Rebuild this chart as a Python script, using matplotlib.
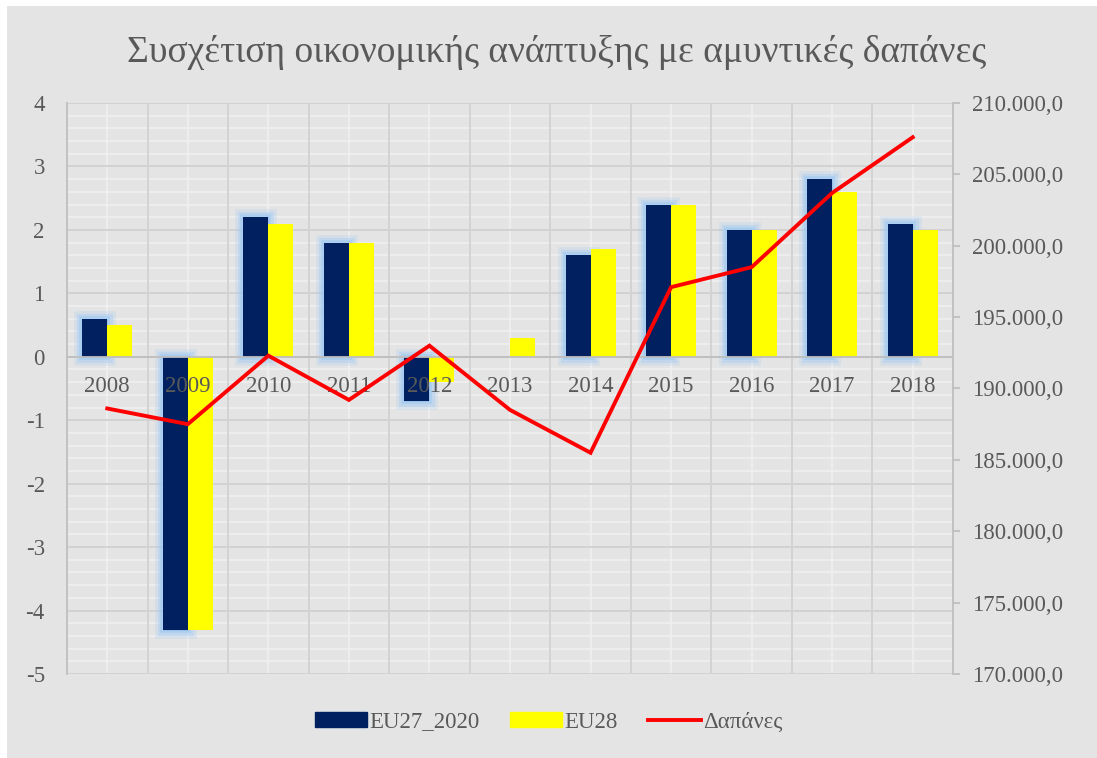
import numpy as np
import matplotlib
matplotlib.use("Agg")
import matplotlib.pyplot as plt
import matplotlib.patheffects as pe
from matplotlib.patches import Patch, Rectangle
from matplotlib.lines import Line2D
from matplotlib.ticker import FuncFormatter, MultipleLocator

# ---------------------------------------------------
# data
# ---------------------------------------------------
years = ["2008", "2009", "2010", "2011", "2012", "2013",
         "2014", "2015", "2016", "2017", "2018"]
eu27_2020 = [0.6, -4.3, 2.2, 1.8, -0.7, np.nan, 1.6, 2.4, 2.0, 2.8, 2.1]
eu28 = [0.5, -4.3, 2.1, 1.8, -0.4, 0.3, 1.7, 2.4, 2.0, 2.6, 2.0]
dapanes = [188600, 187500, 192300, 189200, 193000, 188500,
           185500, 197100, 198500, 203700, 207600]

title = "Συσχέτιση οικονομικής ανάπτυξης με αμυντικές δαπάνες"

# ---------------------------------------------------
# style
# ---------------------------------------------------
plt.rcParams["font.family"] = ["Liberation Serif", "DejaVu Serif"]
txt = "#595959"
bg = "#e4e4e4"
navy = "#002060"
yellow = "#ffff00"
red = "#ff0000"
glow = "#9cc8f4"
fs = 16.5

fig = plt.figure(figsize=(10.97, 7.58), dpi=100, facecolor="white")
# grey chart area with thin white margin on left/top
fig.patches.append(Rectangle((7 / 1097, 0), 1 - 7 / 1097, 1 - 6 / 758,
                             transform=fig.transFigure, facecolor=bg,
                             edgecolor="none", zorder=-10))

ax = fig.add_axes([67 / 1097, 1 - 674 / 758, (953 - 67) / 1097, (674 - 103) / 758])
ax.set_facecolor(bg)
x = np.arange(len(years))
w = 0.31

glow_fx = [pe.Stroke(linewidth=12, foreground=glow, alpha=0.2),
           pe.Stroke(linewidth=8, foreground=glow, alpha=0.35),
           pe.Stroke(linewidth=4, foreground=glow, alpha=0.6),
           pe.Normal()]

b1 = ax.bar(x - w / 2, eu27_2020, w, color=navy, zorder=2)
for b in b1:
    b.set_path_effects(glow_fx)
ax.bar(x + w / 2, eu28, w, color=yellow, zorder=3)

ax.set_xlim(-0.5, len(years) - 0.5)
ax.set_ylim(-5, 4)
ax.set_axisbelow(True)

# grid: white minors, gray majors
ax.yaxis.set_major_locator(MultipleLocator(1))
ax.yaxis.set_minor_locator(MultipleLocator(0.2))
ax.set_xticks(x)
ax.set_xticklabels([])
ax.grid(which="minor", axis="y", color="#f0f0f0", linewidth=1.2)
ax.grid(which="major", axis="x", color="#f0f0f0", linewidth=1.2)
ax.grid(which="major", axis="y", color="#d2d2d2", linewidth=1.3)
# category boundaries
ax.vlines(x[1:] - 0.5, -5, 4, color="#d2d2d2", linewidth=1.3, zorder=0.7)
ax.hlines(np.arange(-5, 5), -0.5, len(years) - 0.5, color="#d2d2d2",
          linewidth=1.3, zorder=0.7)
ax.tick_params(which="both", length=0)
ax.tick_params(axis="y", labelsize=fs, labelcolor=txt, pad=16)
ax.set_yticks(np.arange(-5, 5))
ax.set_yticklabels([str(v) for v in range(-5, 5)])

for s in ["top", "right"]:
    ax.spines[s].set_visible(False)
ax.spines["left"].set_color("#bfbfbf")
ax.spines["left"].set_linewidth(1.3)
ax.spines["bottom"].set_position(("data", 0))
ax.spines["bottom"].set_color("#bfbfbf")
ax.spines["bottom"].set_linewidth(1.3)
ax.spines["bottom"].set_zorder(4)

# category labels next to zero line, drawn above bars
for xi, lbl in zip(x, years):
    ax.annotate(lbl, (xi, 0), xytext=(0, -14), textcoords="offset points",
                ha="center", va="top", fontsize=fs, color=txt, zorder=5)

# secondary axis: spending line
ax2 = ax.twinx()
ax2.plot(x, dapanes, color=red, linewidth=2.8, solid_joinstyle="miter")
ax2.set_ylim(170000, 210000)
ax2.set_yticks(np.arange(170000, 210001, 5000))
ax2.yaxis.set_major_formatter(FuncFormatter(
    lambda v, p: f"{v:,.1f}".replace(",", "X").replace(".", ",").replace("X", ".")))
ax2.tick_params(axis="y", labelsize=fs, labelcolor=txt, color="#bfbfbf",
                length=5, width=1.3, pad=9)
for s in ["top", "left", "bottom"]:
    ax2.spines[s].set_visible(False)
ax2.spines["right"].set_color("#bfbfbf")
ax2.spines["right"].set_linewidth(1.3)

fig.text(0.507, 1 - 52 / 758, title, ha="center", va="center",
         fontsize=27, color=txt)

handles = [Patch(facecolor=navy, edgecolor=navy),
           Patch(facecolor=yellow, edgecolor=yellow),
           Line2D([0], [0], color=red, linewidth=2.8)]
fig.legend(handles, ["EU27_2020", "EU28", "Δαπάνες"], loc="center",
           bbox_to_anchor=(0.5, 1 - 722 / 758), ncol=3, frameon=False,
           fontsize=fs, labelcolor=txt, handlelength=2.3, handleheight=0.65,
           handletextpad=0.1, columnspacing=1.3)

fig.savefig("out.png", dpi=100, facecolor="white")
